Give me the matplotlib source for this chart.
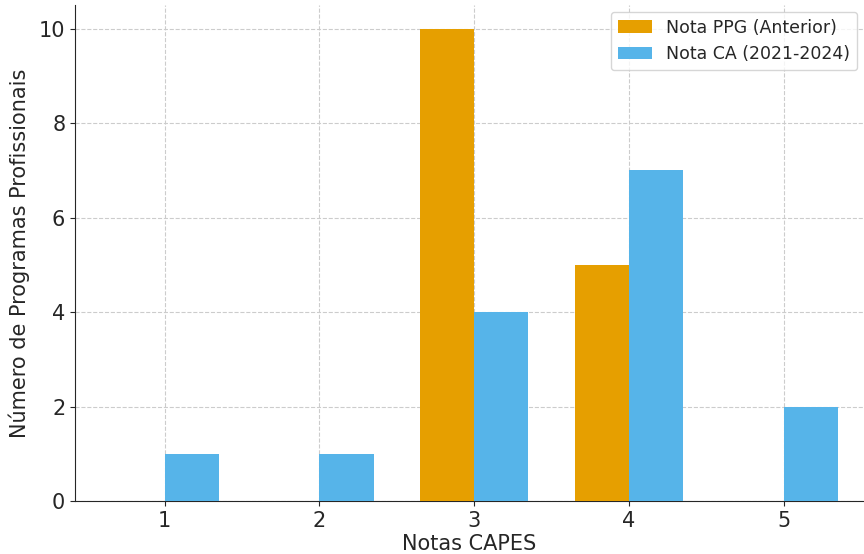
import numpy as np
import matplotlib.pyplot as plt

notas = [1, 2, 3, 4, 5]
ppg_anterior = [0, 0, 10, 5, 0]
ca_2021_2024 = [1, 1, 4, 7, 2]

plt.rcParams["text.color"] = "#262626"
plt.rcParams["axes.labelcolor"] = "#262626"
plt.rcParams["xtick.color"] = "#262626"
plt.rcParams["ytick.color"] = "#262626"
plt.rcParams["axes.edgecolor"] = "#262626"

x = np.array(notas)
w = 0.35

fig = plt.figure(figsize=(8.64, 5.54), dpi=100)
ax = fig.add_axes([75 / 864, 1 - 501 / 554, 1 - 75 / 864, (501 - 5) / 554])

ax.bar(x - w, ppg_anterior, w, align="edge", color="#E69F00", label="Nota PPG (Anterior)", zorder=3)
ax.bar(x, ca_2021_2024, w, align="edge", color="#56B4E9", label="Nota CA (2021-2024)", zorder=3)

ax.set_xlim(0.42, 5.52)
ax.set_ylim(0, 10.5)
ax.set_xticks(notas)
ax.set_yticks([0, 2, 4, 6, 8, 10])
ax.tick_params(labelsize=15)
ax.set_xlabel("Notas CAPES", fontsize=15, labelpad=2)
ax.set_ylabel("Número de Programas Profissionais", fontsize=15, labelpad=6)
ax.grid(True, linestyle="--", color="#cccccc", linewidth=0.8, zorder=0)
ax.spines["top"].set_visible(False)
ax.spines["right"].set_visible(False)
ax.legend(fontsize=12.5, loc="upper left", bbox_to_anchor=(0.668, 1.004))

fig.savefig("out.png", dpi=100)
